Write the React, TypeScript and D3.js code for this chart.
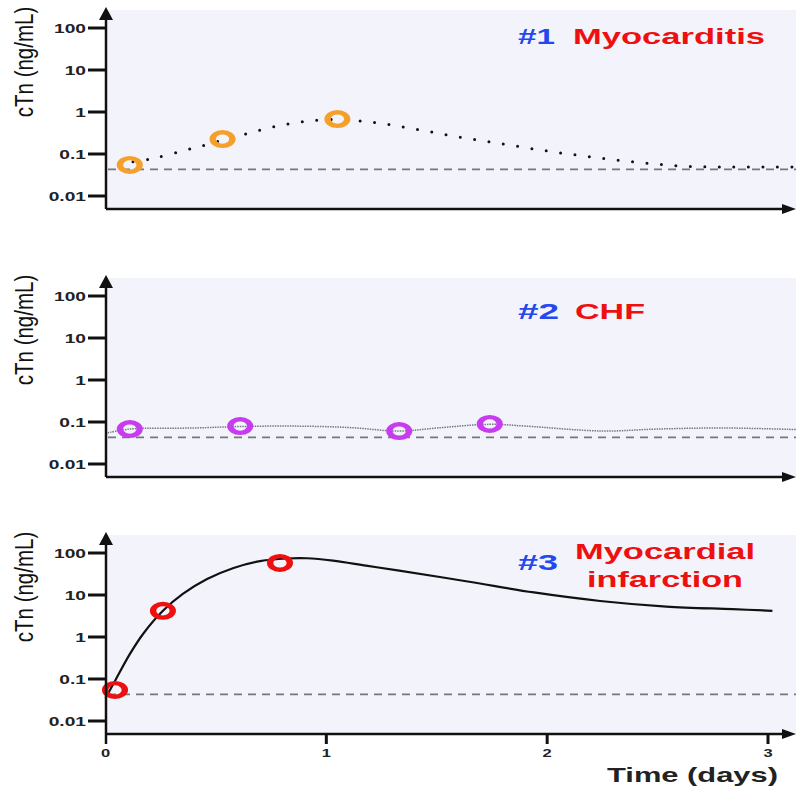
import React from 'react';
import * as d3 from 'd3';

const W = 796, H = 790;
const FONT = "'Liberation Sans', Arial, Helvetica, sans-serif";

// axis values
const yTicks = [100, 10, 1, 0.1, 0.01];
const yTickLabels = ['100', '10', '1', '0.1', '0.01'];
const xTicks = [0, 1, 2, 3];
const detectionLimit = 0.043;

// #1 Myocarditis
const mcDays = [0.11, 0.53, 1.05];
const mcVals = [0.055, 0.227, 0.68];
const mcCurveDays = [0.06, 0.2, 0.4, 0.6, 0.8, 1.0, 1.2, 1.4, 1.6, 1.8, 2.0, 2.2, 2.4, 2.6, 2.8, 3.0, 3.13];
const mcCurveVals = [0.058, 0.076, 0.139, 0.268, 0.49, 0.66, 0.578, 0.394, 0.254, 0.173, 0.118, 0.085, 0.0645, 0.052, 0.049, 0.049, 0.049];

// #2 CHF
const chfDays = [0.11, 0.61, 1.33, 1.74];
const chfVals = [0.068, 0.080, 0.061, 0.090];
const chfCurveDays = [0.01, 0.11, 0.4, 0.61, 0.85, 1.1, 1.33, 1.5, 1.74, 1.9, 2.25, 2.5, 2.8, 3.13];
const chfCurveVals = [0.055, 0.068, 0.072, 0.078, 0.080, 0.074, 0.061, 0.072, 0.088, 0.080, 0.061, 0.068, 0.072, 0.066];

// #3 Myocardial infarction
const miDays = [0.043, 0.26, 0.79];
const miVals = [0.055, 4.2, 58];
const miCurveDays = [0, 0.043, 0.11, 0.17, 0.26, 0.35, 0.46, 0.58, 0.70, 0.82, 0.91, 1.03, 1.18, 1.33, 1.64, 1.94, 2.24, 2.54, 2.84, 3.02];
const miCurveVals = [0.035, 0.09, 0.39, 1.18, 4.2, 10.6, 24, 44, 64, 74, 75, 66, 50, 38, 21, 11.5, 7.2, 5.3, 4.6, 4.2];

const x = d3.scaleLinear().domain([0, 3]).range([105.5, 768]);
const x0 = 106;

const Panel = ({top, days, vals, curveDays, curveVals, color, lineStyle, xTickMarks = false, children}) => {
  const y = d3.scaleLog().domain([0.01, 100]).range([top + 186, top + 18]);
  const axisY = top + 199;
  const line = d3.line()
    .x((d) => x(d[0]))
    .y((d) => y(d[1]))
    .curve(d3.curveCatmullRom.alpha(0.5));
  const pts = curveDays.map((d, i) => [d, curveVals[i]]);
  return (
    <g>
      <rect x={x0} y={top} width={W - x0} height={axisY - top} fill="#f3f4fb" />
      {/* detection limit */}
      <line x1={x0 + 2} x2={W} y1={y(detectionLimit)} y2={y(detectionLimit)}
        stroke="#777" strokeWidth={1.8} strokeDasharray="8 6" />
      <path d={line(pts)} fill="none" {...lineStyle} />
      {days.map((d, i) => (
        <g key={i} transform={`translate(${x(d)},${y(vals[i])}) scale(1.45,1)`}>
          <circle r={6.8} fill="none" stroke={color} strokeWidth={4.4} />
        </g>
      ))}
      {/* y axis */}
      <line x1={x0} x2={x0} y1={top + 2} y2={xTickMarks ? axisY + 10 : axisY} stroke="#111" strokeWidth={2.5} />
      <path d={`M${x0},${top - 3} L${x0 - 7},${top + 10} L${x0 + 7},${top + 10} Z`} fill="#111" />
      {yTicks.map((t, i) => (
        <g key={t}>
          <line x1={88} x2={x0} y1={y(t)} y2={y(t)} stroke="#111" strokeWidth={3} />
          <text transform={`translate(86,${y(t) + 5}) scale(1.42,1)`} textAnchor="end"
            fontFamily={FONT} fontWeight="bold" fontSize={13.5} fill="#222">{yTickLabels[i]}</text>
        </g>
      ))}
      {/* x axis */}
      <line x1={x0} x2={W - 12} y1={axisY} y2={axisY} stroke="#111" strokeWidth={2.5} />
      <path d={`M${W},${axisY} L${W - 14},${axisY - 5} L${W - 14},${axisY + 5} Z`} fill="#111" />
      {xTickMarks && xTicks.map((t) => (
        <g key={t}>
          {t > 0 && <line x1={x(t)} x2={x(t)} y1={axisY} y2={axisY + 10} stroke="#111" strokeWidth={3} />}
          <text transform={`translate(${x(t)},${axisY + 23}) scale(1.5,1)`} textAnchor="middle"
            fontFamily={FONT} fontWeight="bold" fontSize={11} fill="#222">{t}</text>
        </g>
      ))}
      <text transform={`translate(33,${top + 52}) scale(1.25,1) rotate(-90)`} textAnchor="middle"
        fontFamily={FONT} fontSize={20.5} fill="#111">cTn (ng/mL)</text>
      {children}
    </g>
  );
};

const Title = ({x, y, w, fill, children}) => (
  <text x={x} y={y} textLength={w} lengthAdjust="spacingAndGlyphs"
    fontFamily={FONT} fontWeight="bold" fontSize={22} fill={fill}>{children}</text>
);

const BLUE = '#2448ee';
const RED = '#ee1010';

export default function App() {
  return (
    <svg width={W} height={H} style={{position: 'absolute', left: 0, top: 0, background: '#fff'}}>
      <Panel top={10} days={mcDays} vals={mcVals} curveDays={mcCurveDays} curveVals={mcCurveVals}
        color="#f5a02a"
        lineStyle={{stroke: '#111', strokeWidth: 3, strokeDasharray: '0 14.5', strokeLinecap: 'round'}}>
        <Title x={518} y={44} w={37} fill={BLUE}>#1</Title>
        <Title x={573} y={44} w={192} fill={RED}>Myocarditis</Title>
      </Panel>
      <Panel top={278} days={chfDays} vals={chfVals} curveDays={chfCurveDays} curveVals={chfCurveVals}
        color="#c83cf0"
        lineStyle={{stroke: '#777', strokeWidth: 1.5, strokeDasharray: '1.5 1'}}>
        <Title x={518} y={319} w={41} fill={BLUE}>#2</Title>
        <Title x={575} y={319} w={70} fill={RED}>CHF</Title>
      </Panel>
      <Panel top={535} days={miDays} vals={miVals} curveDays={miCurveDays} curveVals={miCurveVals}
        color="#ee1010" xTickMarks
        lineStyle={{stroke: '#111', strokeWidth: 2.2}}>
        <Title x={518} y={570} w={40} fill={BLUE}>#3</Title>
        <Title x={575} y={559} w={180} fill={RED}>Myocardial</Title>
        <Title x={587} y={587} w={156} fill={RED}>infarction</Title>
      </Panel>
      <text x={607} y={782} textLength={171} lengthAdjust="spacingAndGlyphs"
        fontFamily={FONT} fontWeight="bold" fontSize={21} fill="#222">Time (days)</text>
    </svg>
  );
}
